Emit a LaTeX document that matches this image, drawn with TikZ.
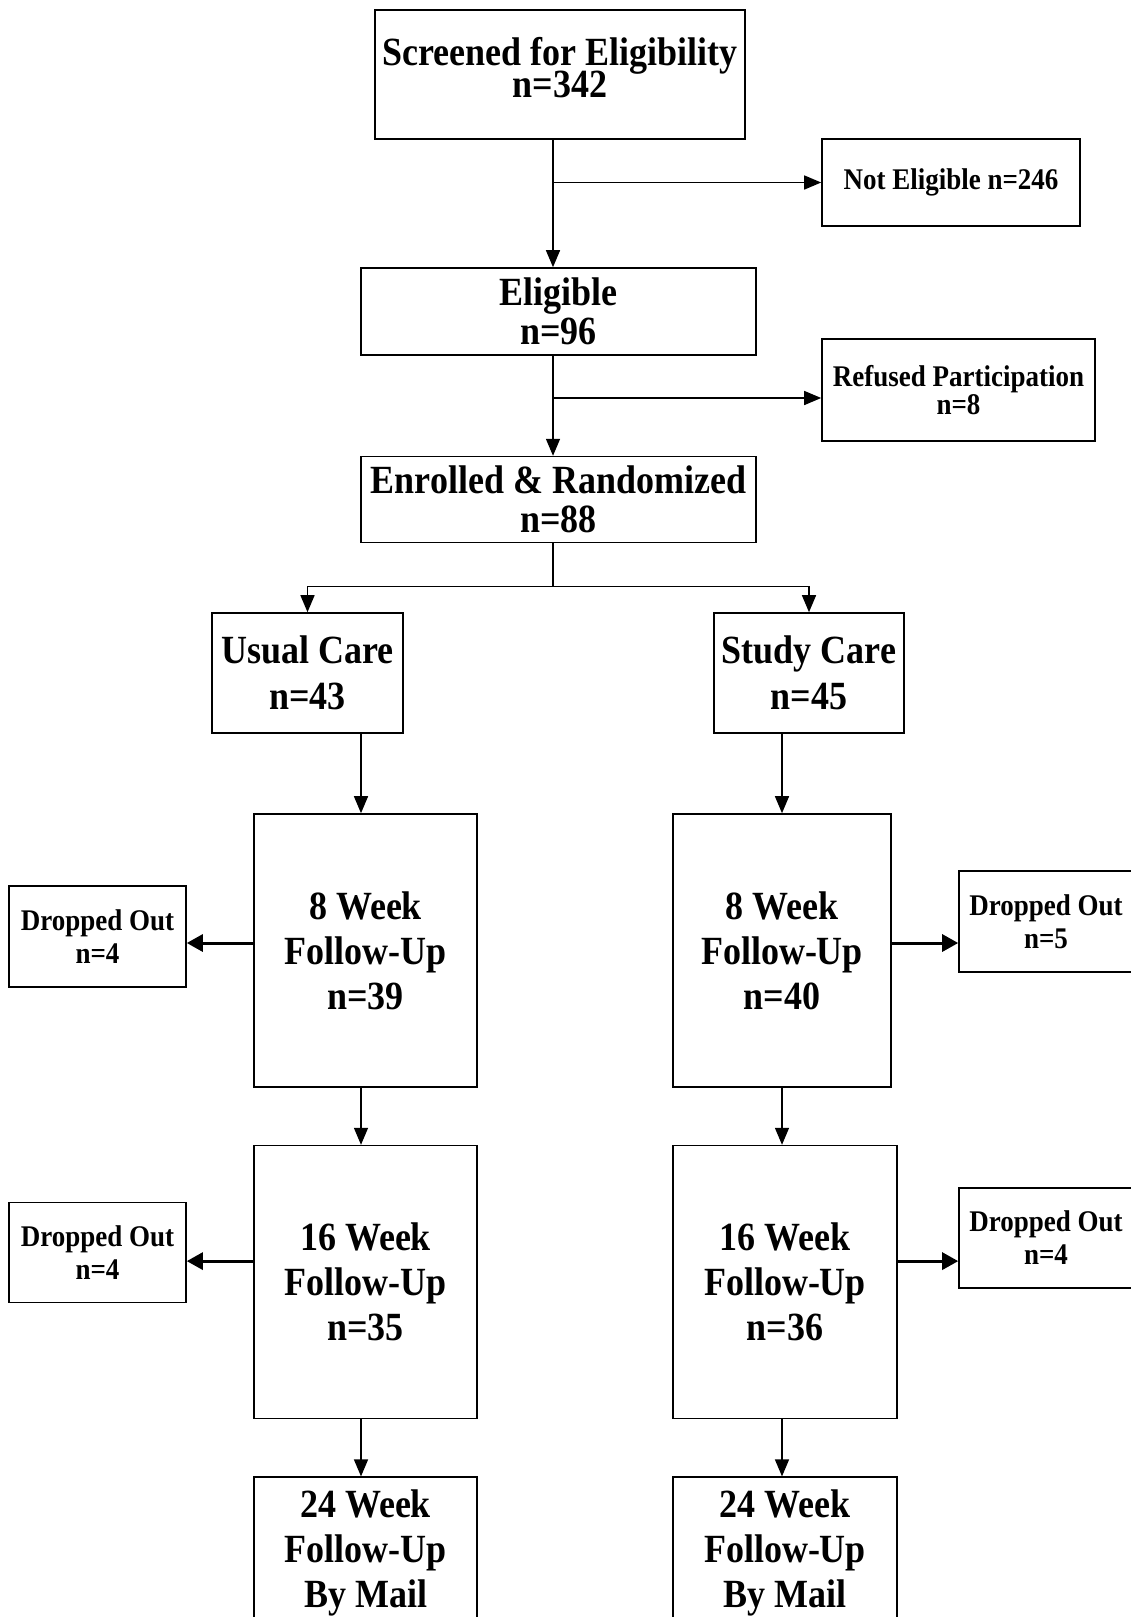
\documentclass[tikz,border=0pt]{standalone}
\usepackage{fontspec}
\setmainfont{Liberation Serif}[FakeStretch=0.9]
\usetikzlibrary{arrows.meta,positioning}
\newcommand{\tightskip}{\lineskiplimit=-20pt\relax}

\begin{document}
\begin{tikzpicture}[
  x=1pt, y=-1pt,
  box/.style={draw, line width=1.6pt, align=center, inner sep=0pt},
  big/.style={box, font=\bfseries\fontsize{40}{39}\selectfont},
  tall/.style={box, font=\bfseries\fontsize{40}{45}\selectfont, minimum height=273pt},
  small/.style={box, font=\bfseries\fontsize{30}{33}\selectfont},
  link/.style={line width=1.4pt},
  arr/.style={line width=1.4pt, -{Triangle[length=17pt,width=14pt]}},
  side/.style={line width=3pt, -{Triangle[length=16pt,width=17pt]}}
]
\useasboundingbox (0,0) rectangle (1131,1617);

\node[big, minimum width=370pt, minimum height=129pt, text depth=15pt,
  font=\bfseries\fontsize{40}{32}\selectfont\tightskip] (screened) at (560,74.5) {Screened for Eligibility\\n=342};
\node[small, minimum width=258pt, minimum height=87pt] (notelig) at (951,182.5) {Not Eligible n=246};
\node[big, minimum width=395pt, minimum height=87pt] (eligible) at (558.5,311.5) {Eligible\\n=96};
\node[small, minimum width=273pt, minimum height=102pt,
  font=\bfseries\fontsize{30}{28}\selectfont\tightskip] (refused) at (958.5,390) {Refused Participation\\n=8};
\node[big, minimum width=395pt, minimum height=86pt, below=100pt of eligible] (enrolled) {Enrolled \& Randomized\\n=88};

\node[big, minimum width=191pt, minimum height=120pt,
  font=\bfseries\fontsize{40}{46}\selectfont] (usual) at (307.5,673) {Usual Care\\n=43};
\node[big, minimum width=190pt, minimum height=120pt,
  font=\bfseries\fontsize{40}{46}\selectfont] (study) at (809,673) {Study Care\\n=45};

\node[tall, minimum width=223pt] (uc8) at (365.5,950.5) {8 Week\\Follow-Up\\n=39};
\node[tall, minimum width=218pt] (sc8) at (782,950.5) {8 Week\\Follow-Up\\n=40};
\node[tall, minimum width=223pt, below=57pt of uc8] (uc16) {16 Week\\Follow-Up\\n=35};
\node[tall, minimum width=224pt, below=57pt of sc8.south west, anchor=north west] (sc16) {16 Week\\Follow-Up\\n=36};
\node[tall, minimum width=223pt, minimum height=142pt, text depth=0pt, below=57pt of uc16] (uc24) {24 Week\\Follow-Up\\By Mail};
\node[tall, minimum width=224pt, minimum height=142pt, text depth=0pt, below=57pt of sc16] (sc24) {24 Week\\Follow-Up\\By Mail};

\node[small, minimum width=177pt, minimum height=101pt] (dl8) at (97.5,936.5) {Dropped Out\\n=4};
\node[small, minimum width=174pt, minimum height=101pt] (dr8) at (1046,921.5) {Dropped Out\\n=5};
\node[small, minimum width=177pt, minimum height=100pt] (dl16) at (97.5,1252.5) {Dropped Out\\n=4};
\node[small, minimum width=174pt, minimum height=100pt] (dr16) at (1046,1238) {Dropped Out\\n=4};

\coordinate (trunk) at (553,0);
\coordinate (lcol) at (361,0);
\coordinate (rcol) at (782,0);
\coordinate (fork) at (553,398);
\coordinate (ul8) at ([yshift=7.5pt]uc8.west);
\coordinate (ur8) at ([yshift=7.5pt]sc8.east);
\coordinate (ul16) at ([yshift=21pt]uc16.west);
\coordinate (ur16) at ([yshift=21pt]sc16.east);

\draw[arr] (screened.south -| trunk) -- (eligible.north -| trunk);
\draw[arr] (notelig.west -| trunk) -- (notelig.west);
\draw[arr] (eligible.south -| trunk) -- (enrolled.north -| trunk);
\draw[arr] (fork) -- (fork -| refused.west);

\draw[link] (enrolled.south -| trunk) -- ++(0,43) coordinate (split);
\draw[arr] (split) -| (usual.north);
\draw[arr] (split) -| (study.north);

\draw[arr] (usual.south -| lcol) -- (uc8.north -| lcol);
\draw[arr] (uc8.south -| lcol) -- (uc16.north -| lcol);
\draw[arr] (uc16.south -| lcol) -- (uc24.north -| lcol);
\draw[arr] (study.south -| rcol) -- (sc8.north -| rcol);
\draw[arr] (sc8.south -| rcol) -- (sc16.north -| rcol);
\draw[arr] (sc16.south -| rcol) -- (sc24.north -| rcol);

\draw[side] (ul8) -- (ul8 -| dl8.east);
\draw[side] (ur8) -- (ur8 -| dr8.west);
\draw[side] (ul16) -- (ul16 -| dl16.east);
\draw[side] (ur16) -- (ur16 -| dr16.west);

\end{tikzpicture}
\end{document}
